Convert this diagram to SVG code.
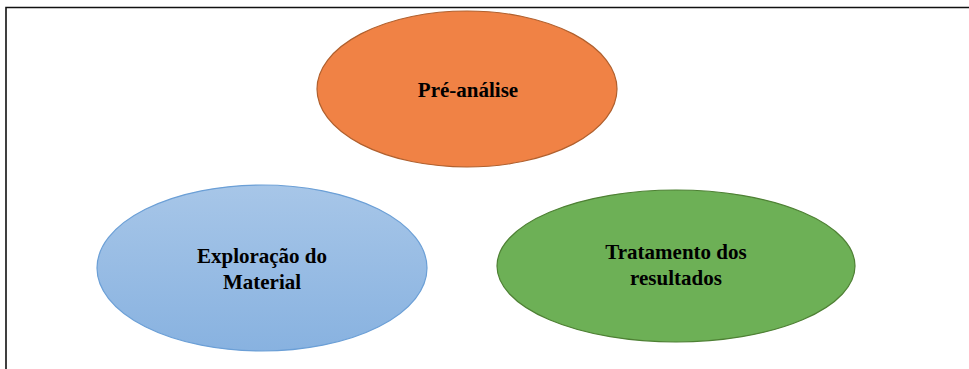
<svg xmlns="http://www.w3.org/2000/svg" width="969" height="369" viewBox="0 0 969 369">
<defs>
<linearGradient id="blueGrad" x1="0" y1="0" x2="0" y2="1">
<stop offset="0" stop-color="#A7C6E8"/>
<stop offset="1" stop-color="#88B2E0"/>
</linearGradient>
<style>
.lbl{font-family:"Liberation Serif","Times New Roman",serif;font-weight:bold;font-size:21px;fill:#000;text-anchor:middle}
.frame{stroke:#111;stroke-width:1.6;fill:none}
</style>
</defs>
<rect width="969" height="369" fill="#fff"/>
<path class="frame" d="M6 369 V7.5 H969"/>
<g id="connectors"></g>
<g id="pre-analise">
<ellipse cx="467" cy="89" rx="150" ry="78" fill="#F08245" stroke="#B0602E" stroke-width="1.2"/>
<text class="lbl" x="468" y="97">Pré-análise</text>
</g>
<g id="exploracao">
<ellipse cx="262" cy="268" rx="165" ry="83" fill="url(#blueGrad)" stroke="#6B9FD6" stroke-width="1.2"/>
<text class="lbl" x="262" y="263">Exploração do</text>
<text class="lbl" x="262" y="289">Material</text>
</g>
<g id="tratamento">
<ellipse cx="676" cy="266" rx="179" ry="76" fill="#6DB056" stroke="#4E8034" stroke-width="1.2"/>
<text class="lbl" x="676" y="259">Tratamento dos</text>
<text class="lbl" x="676" y="285">resultados</text>
</g>
</svg>
